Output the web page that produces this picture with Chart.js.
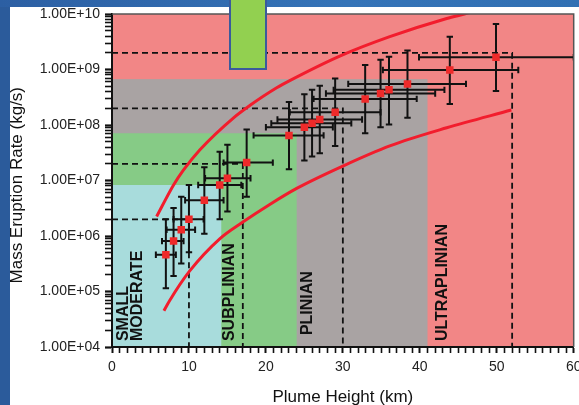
<!DOCTYPE html>
<html><head><meta charset="utf-8">
<script src="https://cdn.jsdelivr.net/npm/chart.js@4.4.0/dist/chart.umd.min.js"></script>
<style>
html,body{margin:0;padding:0;width:579px;height:405px;overflow:hidden;background:#2b5b9b;}
#top{position:absolute;left:0;top:0;width:579px;height:7px;background:linear-gradient(90deg,#2c5fa3,#3574b8 60%,#3170b3);}
#panel{position:absolute;left:10px;top:7px;width:569px;height:398px;background:#fff;}
#c{position:absolute;left:0;top:0;}
#tab{position:absolute;left:229px;top:-3px;width:34px;height:69px;background:#92d050;border:2px solid #3a5b9c;}
</style></head><body>
<div id="top"></div><div id="panel"></div>
<canvas id="c" width="579" height="405"></canvas>
<div id="tab"></div>
<script>
// ---- data ----
const plumeHeight  = [7.0, 8.0, 9.0, 10.0, 12.0, 14.0, 15.0, 17.5, 23.0, 25.0, 26.0, 27.0, 29.0, 32.9, 34.9, 36.0, 38.4, 43.9, 49.9];
const eruptionRate = [4.6e5, 8.1e5, 1.3e6, 2.0e6, 4.4e6, 8.3e6, 1.1e7, 2.1e7, 6.5e7, 9.1e7, 1.07e8, 1.26e8, 1.7e8, 2.95e8, 3.7e8, 4.3e8, 5.5e8, 9.8e8, 1.66e9];
const heightLow    = [5.7, 6.5, 7.1, 8.0, 9.5, 11.2, 12.1, 14.5, 18.4, 20.0, 20.7, 21.5, 23.1, 26.2, 27.8, 28.8, 30.7, 35.2, 39.9];
const heightHigh   = [8.3, 9.3, 10.8, 11.9, 14.5, 16.8, 18.0, 20.9, 27.5, 28.7, 31.1, 32.5, 34.9, 39.6, 42.0, 43.2, 46.0, 52.8, 60.0];
const rateLow      = [1.15e5, 1.9e5, 3.2e5, 5.1e5, 1.1e6, 2.0e6, 2.75e6, 5.1e6, 1.6e7, 2.3e7, 2.7e7, 3.1e7, 4.2e7, 7.1e7, 9.1e7, 1.02e8, 1.35e8, 2.4e8, 4.1e8];
const rateHigh     = [2.0e6, 3.2e6, 5.1e6, 8.3e6, 1.74e7, 3.3e7, 4.4e7, 8.3e7, 2.6e8, 3.6e8, 4.3e8, 5.1e8, 6.9e8, 1.2e9, 1.5e9, 1.7e9, 2.2e9, 3.9e9, 6.6e9];

const upperCurveHeight = [5.8, 8.0, 9.3, 11.4, 15.8, 17.9, 21.4, 23.1, 29.6, 36.1, 43.5, 45.8, 46.6];
const upperCurveRate   = [2.24e6, 8.3e6, 1.55e7, 3.55e7, 1.35e8, 2.24e8, 4.68e8, 6.3e8, 1.74e9, 3.9e9, 8.3e9, 1.0e10, 1.07e10];
const lowerCurveHeight = [6.75, 7.5, 10.1, 14.0, 17.0, 20.5, 24.0, 30.0, 36.1, 43.5, 51.9];
const lowerCurveRate   = [4.5e4, 6.9e4, 2.35e5, 8.9e5, 1.78e6, 3.7e6, 7.2e6, 1.82e7, 4.2e7, 8.9e7, 1.86e8];

const thresholdHeight = [10, 17, 30, 52];
const thresholdRate   = [2e6, 2e7, 2e8, 2e9];

const regionNames     = ['ULTRAPLINIAN', 'PLINIAN', 'SUBPLINIAN', 'SMALL MODERATE'];
const regionMaxHeight = [60, 41, 24, 14.2];
const regionMaxRate   = [1e10, 6.7e8, 7.1e7, 8.3e6];
const regionColors    = ['#f28686', '#a9a3a3', '#86cb86', '#a8dcdc'];

const regionLabelText = ['SMALL', 'MODERATE', 'SUBPLINIAN', 'PLINIAN', 'ULTRAPLINIAN'];

const xTickLabels = ['0', '10', '20', '30', '40', '50', '60'];
const yTickLabels = ['1.00E+04', '1.00E+05', '1.00E+06', '1.00E+07', '1.00E+08', '1.00E+09', '1.00E+10'];

// ---- build ----
Chart.defaults.font.family = '"Liberation Sans", Arial, Helvetica, sans-serif';
const FONT = Chart.defaults.font.family;

const yTickValues = [];
for (let e = 4; e < 10; e++) for (let s = 1; s <= 9; s++) yTickValues.push(s * Math.pow(10, e));
yTickValues.push(1e10);
const isPow10 = v => { const l = Math.log10(v); return Math.abs(l - Math.round(l)) < 1e-9; };

const labelAnchors = [
  {x: 1.5, y: 1.28e4}, {x: 3.3, y: 1.28e4}, {x: 15.3, y: 1.28e4}, {x: 25.4, y: 1.64e4}, {x: 42.9, y: 1.28e4}
];

const backgroundPlugin = {
  id: 'regions',
  beforeDraw(chart) {
    const {ctx, scales: {x, y}} = chart;
    ctx.save();
    for (let i = 0; i < regionNames.length; i++) {
      const x0 = x.getPixelForValue(0), x1 = x.getPixelForValue(regionMaxHeight[i]);
      const y0 = y.getPixelForValue(1e4), y1 = y.getPixelForValue(regionMaxRate[i]);
      ctx.fillStyle = regionColors[i];
      ctx.fillRect(x0, y1, x1 - x0, y0 - y1);
    }
    ctx.fillStyle = '#111';
    ctx.font = 'bold 16px ' + FONT;
    ctx.textAlign = 'left';
    ctx.textBaseline = 'middle';
    regionLabelText.forEach((t, i) => {
      const px = x.getPixelForValue(labelAnchors[i].x), py = y.getPixelForValue(labelAnchors[i].y);
      ctx.save(); ctx.translate(px, py); ctx.rotate(-Math.PI / 2); ctx.fillText(t, 0, 0); ctx.restore();
    });
    ctx.restore();
  },
  afterDraw(chart) {
    const {ctx, chartArea: a} = chart;
    ctx.save();
    ctx.strokeStyle = '#555'; ctx.lineWidth = 1.5;
    ctx.beginPath();
    ctx.moveTo(a.left, a.top); ctx.lineTo(a.right, a.top); ctx.lineTo(a.right, a.bottom);
    ctx.stroke();
    ctx.restore();
  }
};

const errorBarPlugin = {
  id: 'errorBars',
  beforeDatasetDraw(chart, args) {
    if (args.index !== 0) return;
    const {ctx, chartArea: a, scales: {x, y}} = chart;
    ctx.save();
    ctx.beginPath(); ctx.rect(a.left, a.top, a.width, a.height); ctx.clip();
    ctx.strokeStyle = '#111'; ctx.lineWidth = 2;
    const cap = 3.2;
    for (let i = 0; i < plumeHeight.length; i++) {
      const px = x.getPixelForValue(plumeHeight[i]), py = y.getPixelForValue(eruptionRate[i]);
      const x0 = x.getPixelForValue(heightLow[i]), x1 = x.getPixelForValue(heightHigh[i]);
      const y0 = y.getPixelForValue(rateLow[i]), y1 = y.getPixelForValue(rateHigh[i]);
      ctx.beginPath();
      ctx.moveTo(x0, py); ctx.lineTo(x1, py);
      ctx.moveTo(x0, py - cap); ctx.lineTo(x0, py + cap);
      ctx.moveTo(x1, py - cap); ctx.lineTo(x1, py + cap);
      ctx.moveTo(px, y0); ctx.lineTo(px, y1);
      ctx.moveTo(px - cap, y0); ctx.lineTo(px + cap, y0);
      ctx.moveTo(px - cap, y1); ctx.lineTo(px + cap, y1);
      ctx.stroke();
    }
    ctx.restore();
  }
};

const datasets = [
  {
    label: 'Eruptions',
    data: plumeHeight.map((h, i) => ({x: h, y: eruptionRate[i]})),
    showLine: false, pointStyle: 'rect', pointRadius: 5.3, pointBackgroundColor: '#ee2a2a',
    pointBorderWidth: 0, order: 0
  },
  {
    label: 'upper', data: upperCurveHeight.map((h, i) => ({x: h, y: upperCurveRate[i]})),
    showLine: true, pointRadius: 0, borderColor: '#f21d2d', borderWidth: 3, cubicInterpolationMode: 'monotone', order: 1
  },
  {
    label: 'lower', data: lowerCurveHeight.map((h, i) => ({x: h, y: lowerCurveRate[i]})),
    showLine: true, pointRadius: 0, borderColor: '#f21d2d', borderWidth: 3, cubicInterpolationMode: 'monotone', order: 1
  }
];
thresholdHeight.forEach((h, i) => {
  datasets.push({
    label: 'threshold' + i,
    data: [{x: 0, y: thresholdRate[i]}, {x: h, y: thresholdRate[i]}, {x: h, y: 1e4}],
    showLine: true, pointRadius: 0, borderColor: '#111', borderWidth: 1.8, borderDash: [6, 4], tension: 0, order: 2
  });
});

new Chart(document.getElementById('c'), {
  type: 'scatter',
  data: {datasets},
  plugins: [backgroundPlugin, errorBarPlugin],
  options: {
    responsive: false, animation: false, devicePixelRatio: 1,
    layout: {padding: {left: 0, top: 14, right: 5, bottom: 0}},
    plugins: {legend: {display: false}, tooltip: {enabled: false}},
    scales: {
      x: {
        type: 'linear', min: 0, max: 60,
        afterFit(s) { s.height = 58; s.paddingLeft = 0; s.paddingRight = 0; },
        ticks: {
          stepSize: 1, autoSkip: false, maxRotation: 0, padding: 6, color: '#222',
          font: {size: 14},
          callback: v => (v % 10 === 0 ? xTickLabels[v / 10] : '')
        },
        grid: {drawOnChartArea: false, drawTicks: true, tickLength: 6, color: '#111', tickColor: '#111',
               tickWidth: c => (c.tick && c.tick.value % 10 === 0 ? 2 : 1.6)},
        border: {display: true, color: '#111', width: 2},
        title: {display: true, text: 'Plume Height (km)', color: '#111',
                font: {size: 17, lineHeight: 1.2}, padding: {top: 0, bottom: -2.6}}
      },
      y: {
        type: 'logarithmic', min: 1e4, max: 1e10,
        afterBuildTicks(s) { s.ticks = yTickValues.map(v => ({value: v})); },
        afterFit(s) { s.width = 112; s.paddingTop = 0; s.paddingBottom = 0; },
        ticks: {
          autoSkip: false, padding: 5, color: '#222', font: {size: 14},
          callback: v => (isPow10(v) ? yTickLabels[Math.round(Math.log10(v)) - 4] : '')
        },
        grid: {drawOnChartArea: false, drawTicks: true, tickLength: 7, color: '#111', tickColor: '#111',
               tickWidth: c => (c.tick && isPow10(c.tick.value) ? 2.2 : 1.6)},
        border: {display: true, color: '#111', width: 2},
        title: {display: true, text: 'Mass Eruption Rate (kg/s)  ', color: '#111',
                font: {size: 17, lineHeight: 1.2}, padding: {top: 6.8, bottom: 0}}
      }
    }
  }
});
</script></body></html>
